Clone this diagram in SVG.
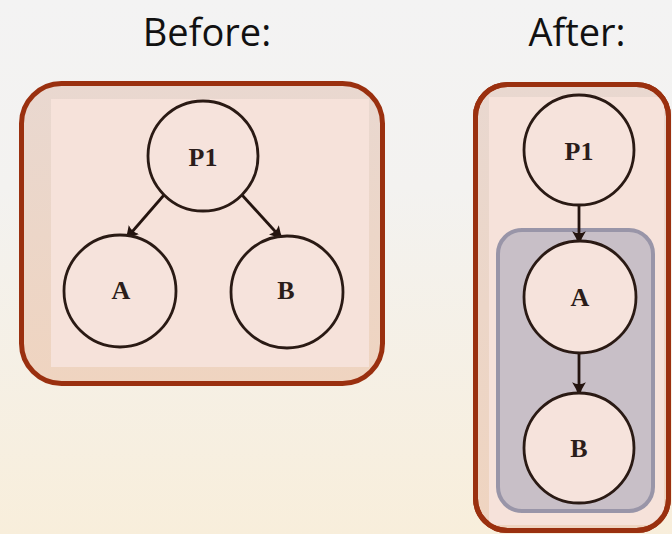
<svg xmlns="http://www.w3.org/2000/svg" width="672" height="534" viewBox="0 0 672 534">
<defs>
<linearGradient id="bg" x1="0" y1="0" x2="0" y2="1">
<stop offset="0" stop-color="#f3f3f3"/>
<stop offset="0.35" stop-color="#f3f2f0"/>
<stop offset="1" stop-color="#f8eedb"/>
</linearGradient>
<linearGradient id="boxfill" x1="0" y1="0" x2="0" y2="1">
<stop offset="0" stop-color="#e9d8d0"/>
<stop offset="1" stop-color="#efd4c0"/>
</linearGradient>
<clipPath id="clipR"><rect x="475.5" y="84.5" width="193" height="446" rx="32"/></clipPath>
<marker id="arr" viewBox="0 0 12 12" refX="11" refY="6" markerWidth="15" markerHeight="15" markerUnits="userSpaceOnUse" orient="auto">
<path d="M0,0.5 Q5,4 12,6 Q5,8 0,11.5 Q3,6 0,0.5 Z" fill="#24140f"/>
</marker>
<style>
.title{font-family:"Open Sans","Noto Sans",sans-serif;font-size:38px;fill:#111;text-anchor:middle}
.frame{stroke:#9a300f;stroke-width:5;fill:url(#boxfill)}
.frame-line{stroke:#9a300f;stroke-width:5;fill:none}
.inner{fill:#f6e2da}
.node{fill:#f6e3dc;stroke:#2a1a14;stroke-width:2.8}
.lbl{font-family:"Liberation Serif","DejaVu Serif",serif;font-weight:bold;font-size:26px;fill:#2b1d1a;text-anchor:middle}
.edge{stroke:#24140f;stroke-width:2.8;fill:none;marker-end:url(#arr)}
.group{fill:#c8bfc7;stroke:#9995a8;stroke-width:4}
</style>
</defs>
<rect width="672" height="534" fill="url(#bg)"/>
<text class="title" x="207" y="46">Before:</text>
<text class="title" x="577" y="46">After:</text>

<g id="before-frame">
<rect class="frame" x="21.5" y="83.5" width="361" height="300" rx="40"/>
<rect class="inner" x="51" y="99" width="318" height="268"/>
</g>
<g id="after-frame">
<rect class="frame" x="475.5" y="84.5" width="193" height="446" rx="32"/>
<rect class="inner" x="489" y="97" width="175" height="428" clip-path="url(#clipR)"/>
<rect class="frame-line" x="475.5" y="84.5" width="193" height="446" rx="32"/>
<rect class="group" x="498" y="230" width="155" height="281" rx="24"/>
</g>

<g id="connectors">
<line class="edge" x1="164" y1="195" x2="125" y2="240"/>
<line class="edge" x1="242" y1="195" x2="283" y2="240"/>
<line class="edge" x1="579" y1="206" x2="579" y2="245"/>
<line class="edge" x1="579" y1="353" x2="579" y2="396"/>
</g>

<g id="before-P1"><circle class="node" cx="203" cy="156" r="55"/><text class="lbl" x="203" y="166">P1</text></g>
<g id="before-A"><circle class="node" cx="120" cy="291" r="56"/><text class="lbl" x="121" y="299">A</text></g>
<g id="before-B"><circle class="node" cx="287" cy="292" r="56"/><text class="lbl" x="286" y="299">B</text></g>

<g id="after-P1"><circle class="node" cx="579" cy="150" r="55"/><text class="lbl" x="579" y="160">P1</text></g>
<g id="after-A"><circle class="node" cx="580" cy="297" r="56"/><text class="lbl" x="580" y="306">A</text></g>
<g id="after-B"><circle class="node" cx="579" cy="448" r="55"/><text class="lbl" x="579" y="457">B</text></g>
</svg>
